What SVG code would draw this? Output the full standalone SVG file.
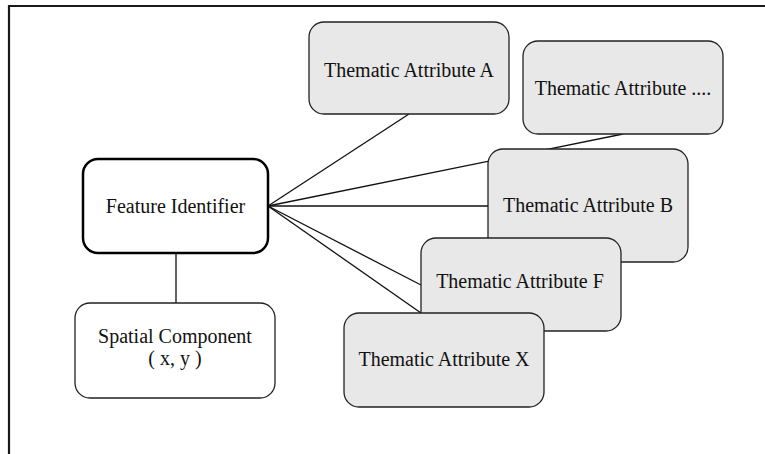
<svg xmlns="http://www.w3.org/2000/svg" width="765" height="454" viewBox="0 0 765 454">
  <style>
    .frame { fill: none; stroke: #1a1a1a; stroke-width: 2.2; }
    .link { fill: none; stroke: #111; stroke-width: 1.3; }
    .attr rect { fill: #e8e8e8; stroke: #222; stroke-width: 1.3; }
    .plain rect { fill: #ffffff; stroke: #222; stroke-width: 1.3; }
    .key rect { fill: #ffffff; stroke: #000; stroke-width: 2.5; }
    text { font-family: "Liberation Serif", "Times New Roman", serif; font-size: 20px; fill: #111; text-anchor: middle; }
  </style>

  <!-- frame: top and left edges -->
  <path class="frame" d="M9,454 V6 H765"/>

  <!-- connectors from the feature identifier -->
  <g id="connectors">
    <line class="link" x1="176" y1="253" x2="176" y2="303"/>
    <line class="link" x1="268" y1="206" x2="409" y2="114"/>
    <line class="link" x1="268" y1="206" x2="623" y2="134"/>
    <line class="link" x1="268" y1="206" x2="488" y2="206"/>
    <line class="link" x1="268" y1="206" x2="421" y2="285"/>
    <line class="link" x1="268" y1="206" x2="421" y2="313"/>
  </g>

  <g id="feature-identifier" class="key">
    <rect x="83" y="159" width="185" height="94" rx="15"/>
    <text x="175.5" y="213">Feature Identifier</text>
  </g>

  <g id="spatial-component" class="plain">
    <rect x="75" y="303" width="200" height="95" rx="15"/>
    <text x="175" y="343">Spatial Component</text>
    <text x="175" y="365">( x, y )</text>
  </g>

  <g id="attribute-a" class="attr">
    <rect x="309" y="22" width="200" height="92" rx="15"/>
    <text x="409" y="77">Thematic Attribute A</text>
  </g>

  <g id="attribute-more" class="attr">
    <rect x="523" y="41" width="200" height="93" rx="15"/>
    <text x="623" y="95">Thematic Attribute ....</text>
  </g>

  <g id="attribute-b" class="attr">
    <rect x="488" y="149" width="200" height="113" rx="15"/>
    <text x="588" y="212">Thematic Attribute B</text>
  </g>

  <g id="attribute-f" class="attr">
    <rect x="421" y="238" width="200" height="93" rx="15"/>
    <text x="520" y="288">Thematic Attribute F</text>
  </g>

  <g id="attribute-x" class="attr">
    <rect x="344" y="313" width="200" height="94" rx="15"/>
    <text x="444" y="366">Thematic Attribute X</text>
  </g>
</svg>
